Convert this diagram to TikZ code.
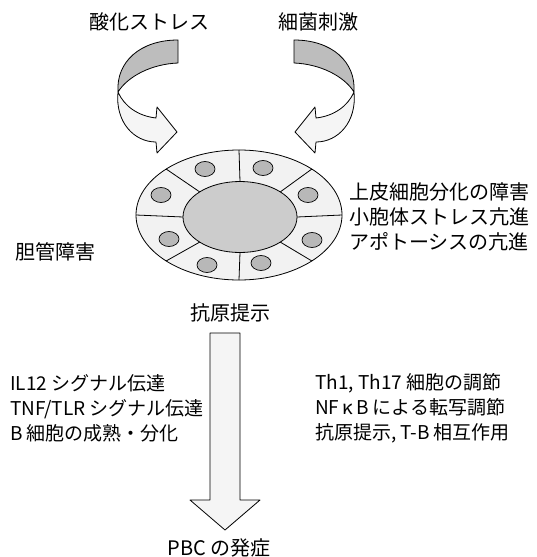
\documentclass[tikz,border=0pt]{standalone}
\usepackage{fontspec}
\newfontfamily\jp{Noto Sans CJK JP}
\usetikzlibrary{calc}
\definecolor{ribbonback}{gray}{0.74}
\definecolor{ribbonfront}{gray}{0.96}
\definecolor{ringfill}{gray}{0.95}
\definecolor{nucleus}{gray}{0.80}
\definecolor{cellgray}{gray}{0.72}
\begin{document}
\begin{tikzpicture}[x=1pt,y=-1pt,
  outline/.style={draw=black,line width=0.8pt,line join=round},
  txt/.style={font=\jp\fontsize{20}{25}\selectfont,inner sep=0pt},
  lowtxt/.style={font=\jp\fontsize{19}{25}\selectfont,inner sep=0pt},
  stack/.style={align=left,anchor=west},
  vesicle/.style={outline,fill=cellgray,line width=0.7pt}]
\useasboundingbox (0,0) rectangle (536,557);
\fill[white] (0,0) rectangle (536,557);

% twisted ribbon arrow on the left; the right one is its mirror image
\def\ribbon{%
  \filldraw[outline,fill=ribbonback]
    (178,40) .. controls (140,40) and (116,62) .. (118,92)
    .. controls (128,76) and (152,64) .. (178,63) -- cycle;
  \filldraw[outline,fill=ribbonfront]
    (118,92) .. controls (124,106) and (138,116) .. (156,118)
    -- (157,107) -- (177,132) -- (157,153) -- (156,142)
    .. controls (134,142) and (115,122) .. (118,92) -- cycle;}
\begin{scope}
  \ribbon
\end{scope}
\begin{scope}[xshift=472pt,xscale=-1]
  \ribbon
\end{scope}

% bile duct cross-section
\coordinate (oc) at (239,215);
\coordinate (ic) at (240,217);
\filldraw[outline,fill=ringfill] (oc) ellipse [x radius=103,y radius=65];
\foreach \a in {0,45,...,315}
  \draw[outline] ($(oc)+(\a:103 and 65)$) -- ($(ic)+(\a:57 and 35.5)$);
\filldraw[outline,fill=nucleus] (ic) ellipse [x radius=57,y radius=35.5];
\foreach \p in {(205,169),(263,168),(308,195),(312,240),
                (261,263),(207,265),(169,239),(161,195)}
  \filldraw[vesicle] \p ellipse [x radius=10,y radius=7.5];

% downward arrow
\filldraw[outline,fill=ribbonfront]
  (210,333) -- (240,333) -- (240,500) -- (260,500) -- (225,530)
  -- (190,500) -- (210,500) -- cycle;

% labels
\node[txt] (oxi) at (149,22) {酸化ストレス};
\node[txt] (bac) at (318,22) {細菌刺激};
\node[txt,stack] (epi) at (349,217)
  {上皮細胞分化の障害\\小胞体ストレス亢進\\アポトーシスの亢進};
\node[txt,anchor=west] (bile) at (15,252) {胆管障害};
\node[txt] (ag) at (230,313) {抗原提示};
\node[lowtxt,stack] (sig) at (10,408)
  {IL12 シグナル伝達\\TNF/TLR シグナル伝達\\B 細胞の成熟・分化};
\node[lowtxt,stack] (reg) at (315,408)
  {Th1, Th17 細胞の調節\\NF\,κ\,B による転写調節\\抗原提示, T-B 相互作用};
\node[txt] (pbc) at (219,548) {PBC の発症};
\end{tikzpicture}
\end{document}
